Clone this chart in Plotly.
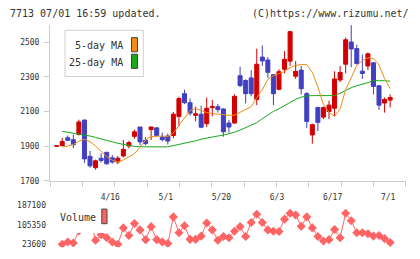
import plotly.graph_objects as go

# ---------------- data ----------------
idx = list(range(61))
opens = [1899, 1902, 1948, 1937, 1967, 2050, 1841, 1775, 1830, 1864,
         1832, 1808, 1843, 1900, 1956, 2010, 1933, 1995, 2005, 1952,
         1958, 1961, 2071, 2202, 2150, 2077, 2084, 2029, 2122, 2127,
         2114, 2033, 2033, 2306, 2278, 2293, 2169, 2413, 2396, 2312,
         2227, 2343, 2390, 2303, 2338, 2202, 1964, 2123, 2067, 2099,
         2118, 2281, 2372, 2500, 2462, 2332, 2362, 2380, 2248, 2148, 2165]
highs = [1901, 1948, 1961, 1967, 2052, 2052, 1873, 1822, 1858, 1866,
         1849, 1843, 1935, 1930, 1995, 2010, 1952, 2012, 2007, 1977,
         1973, 2097, 2184, 2225, 2174, 2127, 2133, 2180, 2165, 2143,
         2118, 2052, 2198, 2357, 2285, 2338, 2462, 2481, 2413, 2315,
         2343, 2447, 2562, 2390, 2362, 2212, 2030, 2125, 2128, 2161,
         2331, 2362, 2526, 2597, 2485, 2428, 2440, 2385, 2250, 2180, 2198]
lows = [1899, 1900, 1928, 1888, 1961, 1803, 1775, 1764, 1805, 1792,
        1798, 1796, 1835, 1886, 1943, 1905, 1905, 1935, 1955, 1927,
        1909, 1946, 2014, 2142, 2075, 2043, 2003, 2010, 2071, 2093,
        1954, 1977, 2028, 2240, 2146, 2187, 2136, 2362, 2293, 2136,
        2222, 2319, 2362, 2287, 2198, 2005, 1914, 1986, 2055, 2055,
        2071, 2268, 2319, 2355, 2370, 2287, 2338, 2198, 2108, 2093, 2123]
closes = [1901, 1926, 1933, 1908, 2039, 1826, 1786, 1815, 1817, 1798,
          1808, 1830, 1881, 1920, 1982, 1924, 1914, 2010, 1961, 1937,
          1929, 2084, 2174, 2150, 2090, 2086, 2009, 2118, 2127, 2110,
          1982, 2010, 2187, 2249, 2202, 2202, 2372, 2391, 2325, 2202,
          2329, 2400, 2560, 2331, 2231, 2042, 2023, 2037, 2122, 2136,
          2287, 2325, 2513, 2460, 2376, 2319, 2432, 2244, 2136, 2169, 2180]
ma5 = [None, 1896, 1899, 1910, 1928, 1939, 1925, 1900, 1868, 1840,
       1818, 1808, 1820, 1836, 1856, 1893, 1935, 1955, 1958, 1958,
       1955, 1975, 2020, 2065, 2105, 2117, 2105, 2093, 2088, 2083,
       2078, 2077, 2078, 2095, 2112, 2127, 2180, 2225, 2285, 2305,
       2318, 2330, 2352, 2366, 2370, 2370, 2325, 2240, 2140, 2095,
       2072, 2115, 2225, 2300, 2365, 2392, 2409, 2405, 2367, 2290, 2231]
ma25 = [None, 1985, 1980, 1975, 1969, 1965, 1958, 1950, 1941, 1936,
        1926, 1916, 1910, 1903, 1898, 1896, 1895, 1895, 1895, 1895,
        1896, 1902, 1908, 1915, 1922, 1930, 1940, 1947, 1953, 1958,
        1963, 1970, 1980, 1992, 2005, 2018, 2035, 2058, 2080, 2100,
        2115, 2135, 2155, 2170, 2182, 2189, 2191, 2191, 2191, 2191,
        2191, 2205, 2222, 2237, 2248, 2256, 2266, 2277, 2278, 2277, 2274]
volume = [None, 23600, 33100, 29000, 80000, 187100, 131000, 40100, 63500, 51200,
          33100, 23600, 92400, 60700, 111300, 84100, 43000, 97700, 43000, 33100,
          26500, 138900, 71800, 101800, 44200, 44200, 57800, 113000, 84100, 40100,
          56500, 51200, 78400, 97700, 56500, 115400, 150000, 115400, 84100, 78400,
          77100, 129400, 154100, 147100, 99000, 138900, 92400, 56500, 37200, 43000,
          85400, 51200, 154100, 122400, 71800, 71800, 67700, 57800, 60700, 47100, 30600]
date_tick_pos = [10, 20, 30, 40, 50, 60]
date_tick_labels = ["4/16", "5/1", "5/20", "6/3", "6/17", "7/1"]
price_ticks = [1700, 1900, 2100, 2300, 2500]
vol_ticks = [23600, 105350, 187100]

# ---------------- styling ----------------
W, H = 420, 259
MONO = "DejaVu Sans Mono"
RED = "#d20000"
BLUE = "#4040c0"
ORANGE = "#f08c14"
GREEN = "#1aa81a"
VOLC = "#ff6464"
AXC = "#cccccc"
TXT = "#333333"


def px(x):
    return x / W


def py(y):
    return 1 - y / H


X0, X1 = 50, 405.7
XR = [-1.2, 62.8]
ppu = (X1 - X0) / (XR[1] - XR[0])
XV0 = 47
XRV = [XR[0] - (X0 - XV0) / ppu, XR[1]]

fig = go.Figure()
fig.add_trace(go.Candlestick(
    x=idx, open=opens, high=highs, low=lows, close=closes,
    increasing=dict(line=dict(color=RED, width=1), fillcolor=RED),
    decreasing=dict(line=dict(color=BLUE, width=1), fillcolor=BLUE),
    whiskerwidth=0, showlegend=False, hoverinfo="skip",
    xaxis="x", yaxis="y"))
fig.add_trace(go.Scatter(x=idx, y=ma25, mode="lines", line=dict(color=GREEN, width=1),
                         showlegend=False, hoverinfo="skip", xaxis="x", yaxis="y"))
fig.add_trace(go.Scatter(x=idx, y=ma5, mode="lines", line=dict(color=ORANGE, width=1),
                         showlegend=False, hoverinfo="skip", xaxis="x", yaxis="y"))
fig.add_trace(go.Scatter(x=idx, y=volume, mode="lines+markers",
                         line=dict(color=VOLC, width=1),
                         marker=dict(symbol="diamond", size=7, color=VOLC),
                         showlegend=False, hoverinfo="skip", xaxis="x2", yaxis="y2"))

tickfont = dict(family=MONO, size=8, color=TXT)
fig.update_layout(
    width=W, height=H, margin=dict(l=0, r=0, t=0, b=0),
    paper_bgcolor="white", plot_bgcolor="white",
    boxgap=0.15, boxgroupgap=0.15,
    xaxis=dict(domain=[px(X0), px(X1)], range=[XR[0] - 1e-6, XR[1] + 1e-6],
               showline=True, linecolor=AXC, linewidth=1, showgrid=False, zeroline=False,
               tickmode="array", tickvals=date_tick_pos, ticktext=date_tick_labels,
               ticks="", tickfont=tickfont, ticklabelstandoff=9, ticklabelshift=-2,
               minor=dict(tickmode="linear", tick0=XR[0], dtick=(XR[1] - XR[0]) / 11,
                          ticks="outside", ticklen=5, tickcolor=AXC, tickwidth=1,
                          showgrid=False),
               rangeslider=dict(visible=False), anchor="y", fixedrange=True),
    yaxis=dict(domain=[py(184), py(24.25)], range=[1700, 2600],
               tickmode="array", tickvals=price_ticks, ticks="outside", ticklen=5,
               tickcolor=AXC, showline=True, linecolor=AXC, linewidth=1,
               showgrid=False, zeroline=False, tickfont=tickfont,
               ticklabelstandoff=3, anchor="x", fixedrange=True),
    xaxis2=dict(domain=[px(XV0), px(X1)], range=XRV, visible=False, anchor="y2",
                fixedrange=True),
    yaxis2=dict(domain=[py(252), py(206)], range=[11246, 200674],
                tickmode="array", tickvals=vol_ticks, ticktext=[str(v) for v in vol_ticks],
                ticks="", showline=False, showgrid=False, zeroline=False,
                tickfont=tickfont, anchor="x2", fixedrange=True),
)

shapes = [
    # price legend box
    dict(type="rect", xref="paper", yref="paper", x0=px(65), x1=px(143.3), y0=py(77.3), y1=py(30),
         fillcolor="white", line=dict(color="#d0d0d0", width=1), layer="above"),
    dict(type="rect", xref="paper", yref="paper", x0=px(131.5), x1=px(137.5), y0=py(52), y1=py(37.5),
         fillcolor=ORANGE, line=dict(color="#444", width=1), layer="above"),
    dict(type="rect", xref="paper", yref="paper", x0=px(131.5), x1=px(137.5), y0=py(69), y1=py(54.5),
         fillcolor=GREEN, line=dict(color="#444", width=1), layer="above"),
    # volume legend background and swatch
    dict(type="rect", xref="paper", yref="paper", x0=px(55), x1=px(111), y0=py(237.5), y1=py(205),
         fillcolor="white", line=dict(width=0), layer="above"),
    dict(type="rect", xref="paper", yref="paper", x0=px(101.8), x1=px(107), y0=py(228), y1=py(213),
         fillcolor=VOLC, line=dict(color="#444", width=1), layer="above"),
]
fig.update_layout(shapes=shapes)

hdr = dict(family=MONO, size=10, color=TXT)
annos = [
    dict(text="7713 07/01 16:59 updated.", x=px(8), y=py(13.3), xanchor="left", yanchor="middle"),
    dict(text="(C)https://www.rizumu.net/", x=px(411), y=py(13.3), xanchor="right", yanchor="middle"),
    dict(text="5-day MA", x=px(124.5), y=py(46), xanchor="right", yanchor="middle"),
    dict(text="25-day MA", x=px(124.5), y=py(62.5), xanchor="right", yanchor="middle"),
    dict(text="Volume", x=px(58), y=py(222), xanchor="left", yanchor="middle"),
]
for a in annos:
    a.update(xref="paper", yref="paper", showarrow=False, font=hdr)
fig.update_layout(annotations=annos)

fig.write_html("out.html")
